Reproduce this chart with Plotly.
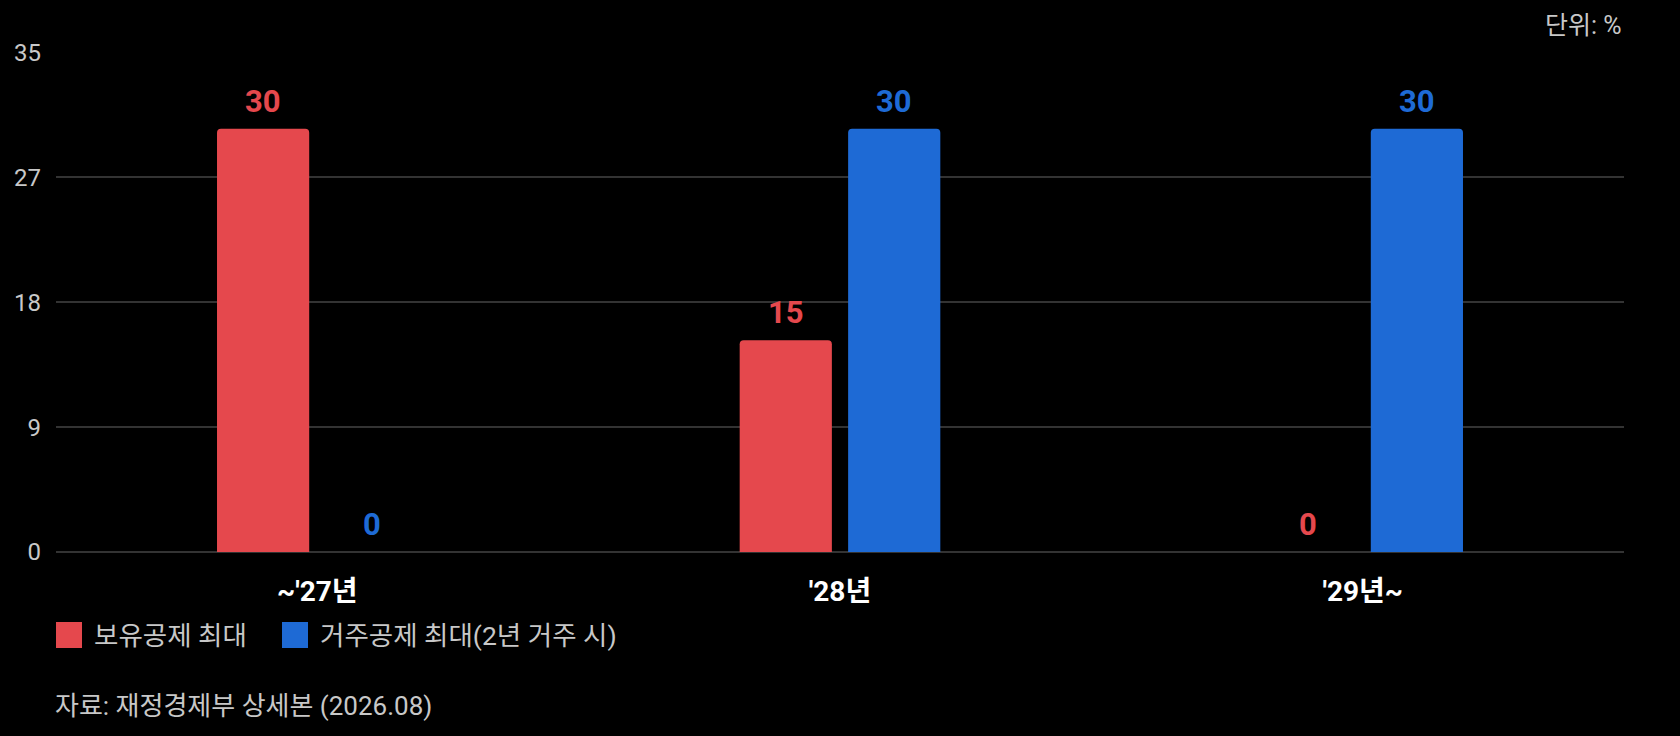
import plotly.graph_objects as go

categories = ["~'27년", "'28년", "'29년~"]
series_names = ["보유공제 최대", "거주공제 최대(2년 거주 시)"]
holding_values = [30, 15, 0]
residence_values = [0, 30, 30]
colors = ["#E5484D", "#1E6AD5"]
y_max = 35.4
y_tick_vals = [0, 8.85, 17.7, 26.55, 35.4]
y_tick_text = ["0", "9", "18", "27", "35"]
unit_text = "단위: %"
source_text = "자료: 재정경제부 상세본 (2026.08)"

FONT = "Roboto, 'Noto Sans CJK KR', sans-serif"
BARGAP = 0.585

fig = go.Figure()
series = [holding_values, residence_values]
for name, vals, col in zip(series_names, series, colors):
    fig.add_trace(go.Bar(
        x=categories, y=vals, name=name,
        marker=dict(color=col, cornerradius=4, line=dict(width=0)),
        textposition="none", showlegend=False,
    ))

# value labels placed over each bar, using the category axis positions
slot = (1 - BARGAP) / len(series)
for s, (vals, col) in enumerate(zip(series, colors)):
    offset = -(1 - BARGAP) / 2 + slot * (s + 0.5)
    for i, v in enumerate(vals):
        fig.add_annotation(x=i + offset, y=v, xref="x", yref="y", text=str(v),
                           showarrow=False, yanchor="bottom", yshift=7,
                           font=dict(family=FONT, size=31, color=col, weight="bold"))

fig.update_layout(
    width=1680, height=736,
    paper_bgcolor="#000000", plot_bgcolor="#000000",
    margin=dict(l=56, r=56, t=52, b=184),
    barmode="group", bargap=BARGAP, bargroupgap=0.15,
    font=dict(family=FONT, color="#c8c8c8"),
)
fig.update_xaxes(
    showgrid=False, zeroline=False, showline=False,
    tickfont=dict(family=FONT, size=28, color="#ffffff", weight="bold"),
    ticks="", ticklabelstandoff=20,
)
fig.update_yaxes(
    range=[0, y_max + 0.03], tickvals=y_tick_vals, ticktext=y_tick_text,
    showgrid=True, gridcolor="#333333", gridwidth=2,
    zeroline=True, zerolinecolor="#333333", zerolinewidth=2,
    tickfont=dict(family=FONT, size=24, color="#c8c8c8"),
    ticks="", ticklabelstandoff=14,
)

fig.add_annotation(text=unit_text, xref="paper", yref="paper", x=1, y=1,
                   xanchor="right", yanchor="bottom", yshift=10, showarrow=False,
                   font=dict(family=FONT, size=25, color="#c8c8c8"))

legend_x = [0, 226]
for i, (name, col) in enumerate(zip(series_names, colors)):
    x0 = legend_x[i]
    fig.add_shape(type="rect", xref="paper", yref="paper",
                  x0=x0 / 1568, x1=(x0 + 26) / 1568,
                  y0=-(622 - 552) / 500, y1=-(648 - 552) / 500,
                  fillcolor=col, line=dict(width=0), layer="above")
    fig.add_annotation(text=name, xref="paper", yref="paper",
                       x=(x0 + 36) / 1568, y=-(635 - 552) / 500,
                       xanchor="left", yanchor="middle", showarrow=False,
                       font=dict(family=FONT, size=26.5, color="#c8c8c8"))

fig.add_annotation(text=source_text, xref="paper", yref="paper",
                   x=0, y=-(706 - 552) / 500, xanchor="left", yanchor="middle",
                   xshift=-3, showarrow=False,
                   font=dict(family=FONT, size=26, color="#c8c8c8"))

fig.write_html("out.html", config={"displayModeBar": False}, post_script=(
    "document.body.style.margin='0';"
    "document.body.style.background='#000';"
    "document.body.style.overflow='hidden';"
))
